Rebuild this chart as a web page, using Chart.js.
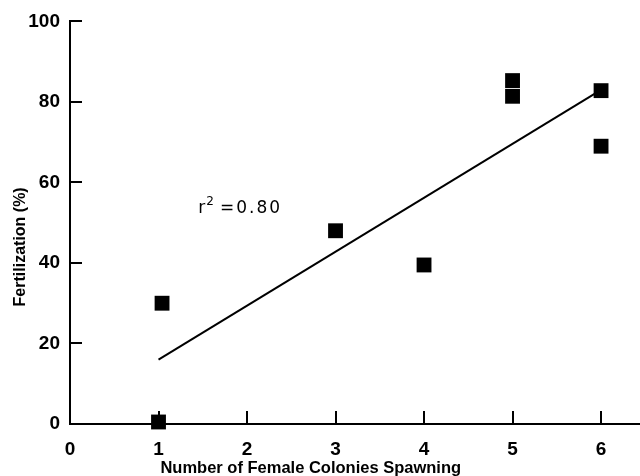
<!DOCTYPE html>
<html>
<head>
<meta charset="utf-8">
<script src="https://cdn.jsdelivr.net/npm/chart.js@4.4.0/dist/chart.umd.min.js"></script>
<style>
  html, body { margin: 0; padding: 0; background: #fff; overflow: hidden; }
  canvas { display: block; }
</style>
</head>
<body>
<canvas id="myChart" width="640" height="476"></canvas>
<script>
// colonies spawning vs fertilization
const colonies = [1, 1.04, 3, 4, 5, 5, 6, 6];
const fertilization = [0.5, 30, 48, 39.5, 85.3, 81.4, 82.8, 69];
// fitted line endpoints
const fitX = [1, 6];
const fitY = [16, 83];
const xTicks = [0, 1, 2, 3, 4, 5, 6];
const yTicks = [0, 20, 40, 60, 80, 100];
const rLabel = "0.80";
const xTitle = "Number of Female Colonies Spawning";
const yTitle = "Fertilization (%)";

const font = "'Liberation Sans', Arial, Helvetica, sans-serif";
const wide = "'DejaVu Sans', sans-serif";

// ticks point inward in the original, so draw them by hand;
// axis titles sit off-centre, so they go here too
const extras = {
  id: 'extras',
  afterDraw(chart) {
    const ctx = chart.ctx;
    const xs = chart.scales.x, ys = chart.scales.y;
    const area = chart.chartArea;
    ctx.save();
    ctx.strokeStyle = '#000';
    ctx.lineWidth = 2;
    ctx.beginPath();
    yTicks.slice(1).forEach(v => {
      const py = Math.round(ys.getPixelForValue(v));
      ctx.moveTo(area.left, py);
      ctx.lineTo(area.left + 12, py);
    });
    xTicks.slice(1).forEach(v => {
      const px = Math.round(xs.getPixelForValue(v));
      ctx.moveTo(px, area.bottom);
      ctx.lineTo(px, area.bottom - 13);
    });
    ctx.stroke();

    ctx.fillStyle = '#000';
    ctx.textAlign = 'center';
    ctx.textBaseline = 'middle';
    ctx.font = 'bold 16.5px ' + font;
    ctx.fillText(xTitle, xs.getPixelForValue(2.72), 468);
    ctx.save();
    ctx.translate(21, ys.getPixelForValue(44));
    ctx.rotate(-Math.PI / 2);
    ctx.font = 'bold 16px ' + font;
    ctx.fillText(yTitle, 0, 0);
    ctx.restore();

    // r^2 label
    ctx.textAlign = 'left';
    ctx.textBaseline = 'alphabetic';
    let tx = xs.getPixelForValue(1.45), ty = ys.getPixelForValue(52.3);
    ctx.font = '17px ' + wide;
    ctx.fillText('r', tx, ty);
    tx += ctx.measureText('r').width + 1;
    ctx.font = '12px ' + wide;
    ctx.fillText('2', tx, ty - 8);
    tx += ctx.measureText('2').width + 6;
    ctx.font = '17px ' + wide;
    ctx.fillText('=', tx, ty);
    tx += ctx.measureText('=').width + 2;
    ctx.letterSpacing = '2px';
    ctx.fillText(rLabel, tx, ty);
    ctx.restore();
  }
};

const ctx = document.getElementById('myChart');
new Chart(ctx, {
  data: {
    datasets: [
      {
        type: 'line',
        data: fitX.map((x, i) => ({ x: x, y: fitY[i] })),
        borderColor: '#000',
        borderWidth: 2,
        pointRadius: 0,
        fill: false
      },
      {
        type: 'scatter',
        data: colonies.map((x, i) => ({ x: x, y: fertilization[i] })),
        pointStyle: 'rect',
        pointRadius: 10.5,
        backgroundColor: '#000',
        borderColor: '#000',
        borderWidth: 0,
        clip: false
      }
    ]
  },
  options: {
    responsive: false,
    animation: false,
    layout: { autoPadding: false, padding: { top: 21, right: 0, left: 0, bottom: 0 } },
    plugins: {
      legend: { display: false },
      tooltip: { enabled: false }
    },
    scales: {
      x: {
        type: 'linear',
        min: 0,
        max: 6.44,
        afterBuildTicks: s => { s.ticks = xTicks.map(v => ({ value: v })); },
        afterFit: s => { s.height = 52; },
        grid: { display: false, drawTicks: false },
        border: { display: true, color: '#000', width: 2 },
        ticks: {
          color: '#000',
          padding: 14,
          font: { family: font, size: 19, weight: 'bold' }
        },
        title: { display: false }
      },
      y: {
        type: 'linear',
        min: 0,
        max: 100,
        afterBuildTicks: s => { s.ticks = yTicks.map(v => ({ value: v })); },
        afterFit: s => { s.width = 70; },
        grid: { display: false, drawTicks: false },
        border: { display: true, color: '#000', width: 2 },
        ticks: {
          color: '#000',
          padding: 10,
          font: { family: font, size: 19, weight: 'bold' }
        },
        title: { display: false }
      }
    }
  },
  plugins: [extras]
});
</script>
</body>
</html>
